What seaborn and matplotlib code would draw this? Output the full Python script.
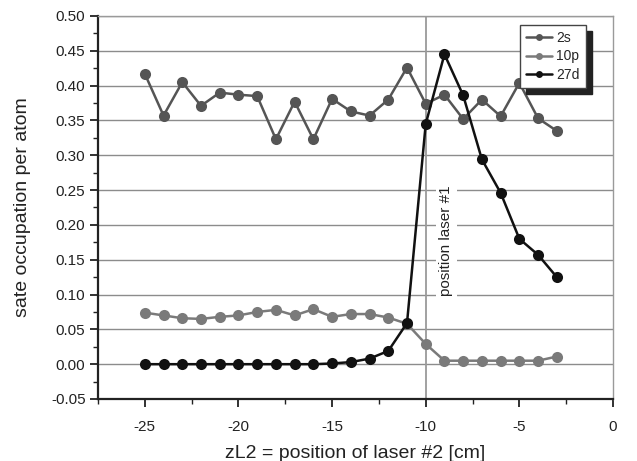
import numpy as np
import pandas as pd
import matplotlib
matplotlib.use("Agg")
import matplotlib.pyplot as plt
import seaborn as sns
from matplotlib.ticker import MultipleLocator
from matplotlib.lines import Line2D

positions = list(range(-25, -2))
s2 = [0.417, 0.357, 0.405, 0.371, 0.390, 0.387, 0.385, 0.323, 0.377, 0.323,
      0.381, 0.363, 0.357, 0.380, 0.426, 0.374, 0.387, 0.352, 0.380, 0.356,
      0.404, 0.353, 0.335]
p10 = [0.074, 0.070, 0.066, 0.065, 0.068, 0.070, 0.075, 0.078, 0.070, 0.079,
       0.068, 0.072, 0.072, 0.067, 0.058, 0.029, 0.005, 0.005, 0.005, 0.005,
       0.005, 0.005, 0.011]
d27 = [0.0, 0.0, 0.0, 0.0, 0.0, 0.0, 0.0, 0.0, 0.0, 0.0,
       0.001, 0.003, 0.008, 0.019, 0.059, 0.345, 0.445, 0.386, 0.294, 0.246,
       0.180, 0.157, 0.125]
series_names = ["2s", "10p", "27d"]
series_colors = ["#555555", "#7a7a7a", "#111111"]

df = pd.DataFrame({
    "x": positions * 3,
    "y": s2 + p10 + d27,
    "state": [series_names[0]] * len(s2) + [series_names[1]] * len(p10) + [series_names[2]] * len(d27),
})

sns.set_theme(style="white")
plt.rcParams["font.family"] = ["Liberation Sans", "DejaVu Sans"]

fig = plt.figure(figsize=(6.37, 4.61), dpi=100)
ax = fig.add_axes([98 / 637, 1 - 399 / 461, (613 - 98) / 637, (399 - 16) / 461])

for y in np.arange(-0.05, 0.501, 0.05):
    ax.axhline(y, color="#8c8c8c", lw=1.0, zorder=0)
ax.axvline(-10, color="#9a9a9a", lw=1.3, zorder=1)

sns.lineplot(data=df, x="x", y="y", hue="state", palette=dict(zip(series_names, series_colors)),
             marker="o", markersize=8, markeredgewidth=0, lw=1.8, ax=ax, legend=False, zorder=3)

ax.set_xlim(-27.5, 0)
ax.set_ylim(-0.05, 0.5)
ax.xaxis.set_major_locator(MultipleLocator(5))
ax.xaxis.set_minor_locator(MultipleLocator(2.5))
ax.yaxis.set_major_locator(MultipleLocator(0.05))
ax.yaxis.set_minor_locator(MultipleLocator(0.025))
ax.yaxis.set_major_formatter(matplotlib.ticker.FuncFormatter(lambda v, p: f"{v:.2f}"))
ax.xaxis.set_major_formatter(matplotlib.ticker.FuncFormatter(lambda v, p: f"{v:g}"))
ax.tick_params(axis="both", which="major", direction="out", length=6, width=1.3, color="#222222",
               labelsize=11, labelcolor="#222222", bottom=True, left=True, pad=3)
ax.tick_params(axis="both", which="minor", direction="out", length=3.5, width=1.0, color="#222222",
               bottom=True, left=True)
ax.tick_params(axis="x", which="major", pad=9)

for side in ["left", "bottom"]:
    ax.spines[side].set_color("#222222")
    ax.spines[side].set_linewidth(1.6)
for side in ["top", "right"]:
    ax.spines[side].set_color("#9a9a9a")
    ax.spines[side].set_linewidth(1.0)

ax.set_xlabel("zL2 = position of laser #2 [cm]", fontsize=14, color="#222222", labelpad=8)
ax.set_ylabel("sate occupation per atom", fontsize=14, color="#222222", labelpad=14)

ax.text(-8.9, 0.178, "position laser #1", rotation=90, ha="center", va="center",
        fontsize=11, color="#222222", zorder=2,
        bbox=dict(facecolor="white", edgecolor="none", pad=2.5))

handles = [Line2D([], [], color=c, marker="o", markersize=5, markeredgewidth=0, lw=1.8)
           for c in series_colors]
leg = ax.legend(handles, series_names, loc="upper right", bbox_to_anchor=(586 / 637, 1 - 25 / 461),
                bbox_transform=fig.transFigure, fontsize=10, frameon=True, fancybox=False,
                shadow={"color": "#222222", "alpha": 1.0, "ox": 4.5, "oy": -4.5},
                handlelength=1.9, handletextpad=0.3,
                labelspacing=0.3, borderpad=0.45, borderaxespad=0)
leg.get_frame().set_edgecolor("#444444")
leg.get_frame().set_linewidth(1.0)
leg.set_zorder(5)

fig.savefig("out.png", dpi=100)
